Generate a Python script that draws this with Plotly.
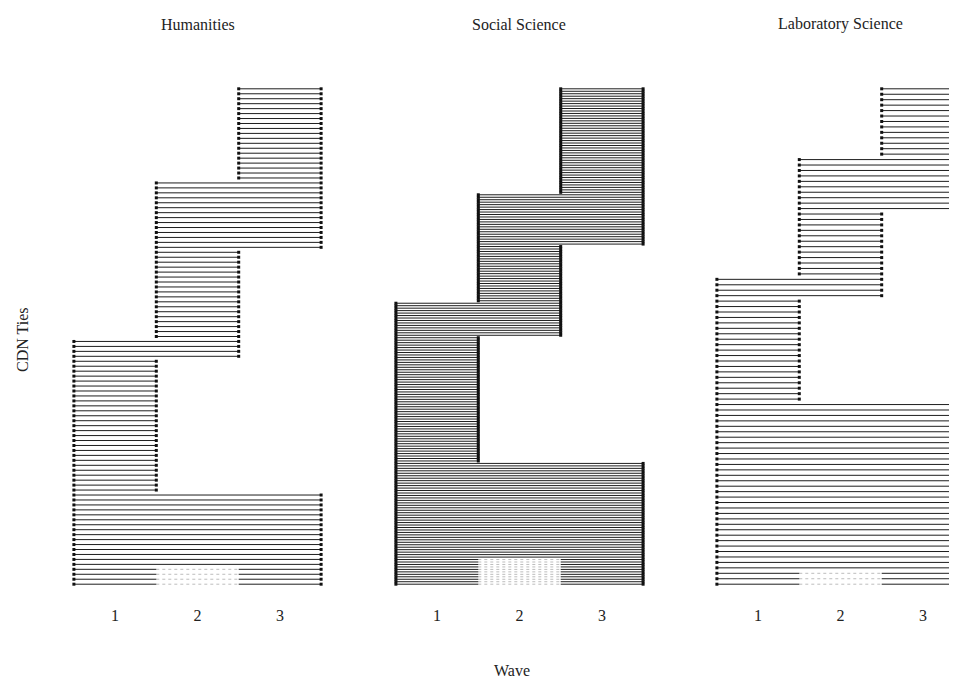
import plotly.graph_objects as go

# ---- data -------------------------------------------------------------
panels = ["Humanities", "Social Science", "Laboratory Science"]
waves = [1, 2, 3]
wave_labels = ["1", "2", "3"]

# tie patterns, listed from the bottom of each panel to the top
pattern_first_wave = [1, 1, 1, 1, 2, 2, 3]
pattern_last_wave = [3, 3, 1, 2, 2, 3, 3]
pattern_missing_wave2 = [True, False, False, False, False, False, False]

humanities_counts = [4, 15, 27, 4, 18, 14, 19]
social_science_counts = [11, 39, 51, 14, 23, 21, 43]
laboratory_counts = [3, 31, 19, 4, 12, 10, 13]

counts_by_panel = [humanities_counts, social_science_counts, laboratory_counts]

# ---- figure -----------------------------------------------------------
W, H = 957, 680
OFF = 8  # page body margin in the browser
FONT = "Liberation Serif"
LINE_COLOR = "#1e1e1e"


def fx(r):
    return (r - OFF) / W


def fy(r):
    return (H - (r - OFF)) / H


fig = go.Figure()

x_domains = [[fx(64), fx(331)], [fx(386), fx(653)], [fx(707), 1.0]]
x_ranges = [[0.38, 3.62], [0.38, 3.62], [0.38, 0.38 + (W + OFF - 707) / 82.4]]
y_domain = [fy(604), fy(69)]

for p, counts in enumerate(counts_by_panel):
    xa = "x" if p == 0 else f"x{p + 1}"
    ya = "y" if p == 0 else f"y{p + 1}"
    solid_x, solid_y, dot_x, dot_y, mk_x, mk_y = [], [], [], [], [], []
    idx = 0
    for k, n in enumerate(counts):
        a = pattern_first_wave[k]
        b = pattern_last_wave[k]
        for _ in range(n):
            idx += 1
            if pattern_missing_wave2[k]:
                solid_x += [a - 0.5, a + 0.5, None, b - 0.5, b + 0.5, None]
                solid_y += [idx, idx, None, idx, idx, None]
                dot_x += [a + 0.5, b - 0.5, None]
                dot_y += [idx, idx, None]
            else:
                solid_x += [a - 0.5, b + 0.5, None]
                solid_y += [idx, idx, None]
            mk_x += [a - 0.5, b + 0.5]
            mk_y += [idx, idx]
    N = idx
    fig.add_trace(go.Scatter(x=dot_x, y=dot_y, mode="lines", xaxis=xa, yaxis=ya,
                             line=dict(color="#bdbdbd", width=1, dash="dot"),
                             hoverinfo="skip", showlegend=False))
    fig.add_trace(go.Scatter(x=solid_x, y=solid_y, mode="lines", xaxis=xa, yaxis=ya,
                             line=dict(color=LINE_COLOR, width=1),
                             hoverinfo="skip", showlegend=False))
    fig.add_trace(go.Scatter(x=mk_x, y=mk_y, mode="markers", xaxis=xa, yaxis=ya,
                             marker=dict(color="#111111", size=3, symbol="square"),
                             hoverinfo="skip", showlegend=False))

    pad = 0.04 * (N - 1)
    xkey = "xaxis" if p == 0 else f"xaxis{p + 1}"
    ykey = "yaxis" if p == 0 else f"yaxis{p + 1}"
    fig.update_layout(**{
        xkey: dict(domain=x_domains[p], range=x_ranges[p], anchor=ya,
                   tickvals=waves, ticktext=wave_labels, ticks="",
                   showgrid=False, zeroline=False, showline=False,
                   tickfont=dict(family=FONT, size=16, color="#222")),
        ykey: dict(domain=y_domain, range=[1 - pad, N + pad], anchor=xa,
                   showticklabels=False, ticks="", showgrid=False,
                   zeroline=False, showline=False),
    })

annotations = []
title_x = [197.5, 519.5, 840.5]
for p, name in enumerate(panels):
    annotations.append(dict(text=name, x=fx(title_x[p]), y=fy(24),
                            xref="paper", yref="paper", showarrow=False,
                            xanchor="center", yanchor="middle",
                            font=dict(family=FONT, size=16, color="#222")))
annotations.append(dict(text="Wave", x=fx(512), y=fy(670),
                        xref="paper", yref="paper", showarrow=False,
                        xanchor="center", yanchor="middle",
                        font=dict(family=FONT, size=16, color="#222")))
annotations.append(dict(text="CDN Ties", x=fx(22), y=fy(340),
                        xref="paper", yref="paper", showarrow=False,
                        textangle=-90, xanchor="center", yanchor="middle",
                        font=dict(family=FONT, size=16, color="#222")))

fig.update_layout(width=W, height=H, margin=dict(l=0, r=0, t=0, b=0),
                  paper_bgcolor="white", plot_bgcolor="white",
                  annotations=annotations, showlegend=False)

fig.write_html("out.html")
